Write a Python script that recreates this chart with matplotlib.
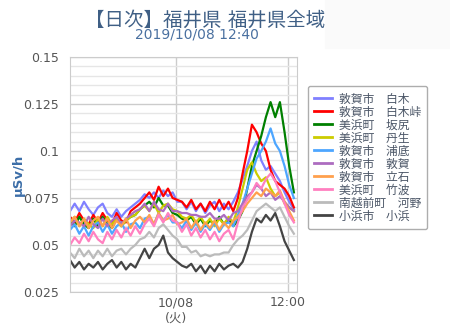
import matplotlib
matplotlib.use("Agg")
import matplotlib.pyplot as plt
import pandas as pd

plt.rcParams['font.family'] = ['DejaVu Sans', 'Noto Sans CJK JP']

# 30 minute readings, 10/07 12:40 -> 10/08 12:40
times = pd.date_range("2019-10-07 12:40", "2019-10-08 12:40", freq="30min")

stations = ["敦賀市　白木", "敦賀市　白木峠", "美浜町　坂尻", "美浜町　丹生", "敦賀市　浦底",
            "敦賀市　敦賀", "敦賀市　立石", "美浜町　竹波", "南越前町　河野", "小浜市　小浜"]
colors = ["#8080ff", "#ff0000", "#008000", "#cccc00", "#4da6ff",
          "#ad6cc0", "#ffa04d", "#ff80c0", "#bbbbbb", "#444444"]

shiraki = [0.068, 0.072, 0.068, 0.073, 0.069, 0.066, 0.070, 0.072, 0.067, 0.065, 0.069, 0.065, 0.068,
           0.070, 0.072, 0.074, 0.077, 0.075, 0.078, 0.075, 0.079, 0.076, 0.078, 0.073, 0.073, 0.069,
           0.073, 0.068, 0.072, 0.067, 0.071, 0.073, 0.068, 0.072, 0.069, 0.073, 0.078, 0.085, 0.092,
           0.100, 0.105, 0.095, 0.090, 0.092, 0.088, 0.084, 0.078, 0.073, 0.069]
shiraki_toge = [0.065, 0.062, 0.067, 0.063, 0.061, 0.066, 0.062, 0.067, 0.063, 0.061, 0.067, 0.063, 0.062,
                0.068, 0.070, 0.072, 0.075, 0.078, 0.074, 0.081, 0.076, 0.080, 0.075, 0.074, 0.073, 0.070,
                0.074, 0.069, 0.072, 0.068, 0.073, 0.069, 0.074, 0.069, 0.073, 0.068, 0.075, 0.088, 0.100,
                0.114, 0.110, 0.104, 0.100, 0.090, 0.084, 0.082, 0.080, 0.076, 0.070]
sakajiri = [0.063, 0.060, 0.065, 0.061, 0.059, 0.064, 0.060, 0.065, 0.061, 0.059, 0.064, 0.060, 0.063,
            0.065, 0.066, 0.069, 0.071, 0.073, 0.070, 0.075, 0.071, 0.071, 0.067, 0.066, 0.064, 0.063,
            0.065, 0.061, 0.064, 0.060, 0.063, 0.061, 0.065, 0.061, 0.064, 0.060, 0.063, 0.068, 0.080,
            0.092, 0.100, 0.108, 0.118, 0.126, 0.118, 0.126, 0.110, 0.092, 0.078]
nyu = [0.062, 0.065, 0.060, 0.064, 0.061, 0.059, 0.064, 0.060, 0.065, 0.061, 0.064, 0.060, 0.063,
       0.065, 0.066, 0.069, 0.071, 0.068, 0.072, 0.067, 0.071, 0.072, 0.069, 0.068, 0.065, 0.064,
       0.066, 0.062, 0.065, 0.061, 0.064, 0.060, 0.064, 0.061, 0.065, 0.062, 0.070, 0.080, 0.090,
       0.094, 0.088, 0.084, 0.086, 0.080, 0.076, 0.078, 0.072, 0.070, 0.068]
urasoko = [0.058, 0.061, 0.056, 0.060, 0.055, 0.060, 0.062, 0.057, 0.061, 0.056, 0.060, 0.062, 0.057,
           0.061, 0.062, 0.059, 0.064, 0.065, 0.061, 0.067, 0.063, 0.066, 0.062, 0.062, 0.059, 0.063,
           0.058, 0.062, 0.057, 0.061, 0.058, 0.062, 0.057, 0.061, 0.062, 0.060, 0.066, 0.072, 0.080,
           0.088, 0.096, 0.100, 0.105, 0.112, 0.104, 0.100, 0.092, 0.082, 0.075]
tsuruga = [0.060, 0.063, 0.062, 0.060, 0.065, 0.061, 0.059, 0.064, 0.060, 0.063, 0.065, 0.061, 0.064,
           0.066, 0.068, 0.069, 0.072, 0.068, 0.073, 0.069, 0.068, 0.072, 0.068, 0.068, 0.067, 0.067,
           0.066, 0.066, 0.065, 0.065, 0.067, 0.064, 0.064, 0.066, 0.063, 0.067, 0.068, 0.072, 0.076,
           0.078, 0.082, 0.080, 0.076, 0.078, 0.074, 0.076, 0.073, 0.070, 0.068]
tateishi = [0.062, 0.065, 0.060, 0.064, 0.059, 0.063, 0.065, 0.060, 0.064, 0.059, 0.063, 0.060, 0.064,
            0.059, 0.063, 0.065, 0.062, 0.066, 0.061, 0.067, 0.063, 0.064, 0.066, 0.061, 0.062, 0.064,
            0.059, 0.063, 0.058, 0.062, 0.059, 0.063, 0.058, 0.062, 0.059, 0.063, 0.065, 0.068, 0.072,
            0.075, 0.078, 0.076, 0.080, 0.078, 0.076, 0.079, 0.073, 0.068, 0.063]
takenami = [0.050, 0.054, 0.051, 0.056, 0.052, 0.057, 0.053, 0.051, 0.057, 0.053, 0.058, 0.054, 0.059,
            0.055, 0.060, 0.056, 0.061, 0.064, 0.060, 0.066, 0.062, 0.067, 0.063, 0.062, 0.057, 0.061,
            0.055, 0.059, 0.054, 0.058, 0.053, 0.057, 0.052, 0.056, 0.058, 0.053, 0.062, 0.070, 0.074,
            0.078, 0.083, 0.080, 0.085, 0.088, 0.084, 0.078, 0.072, 0.066, 0.062]
kono = [0.046, 0.043, 0.048, 0.044, 0.047, 0.043, 0.047, 0.044, 0.048, 0.044, 0.047, 0.048, 0.045,
        0.048, 0.050, 0.053, 0.054, 0.057, 0.054, 0.059, 0.061, 0.058, 0.055, 0.053, 0.049, 0.049,
        0.046, 0.047, 0.044, 0.045, 0.044, 0.045, 0.045, 0.046, 0.046, 0.050, 0.053, 0.055, 0.058,
        0.063, 0.068, 0.070, 0.072, 0.070, 0.068, 0.070, 0.065, 0.060, 0.056]
obama = [0.042, 0.038, 0.041, 0.037, 0.040, 0.038, 0.041, 0.037, 0.040, 0.042, 0.038, 0.041, 0.037,
         0.040, 0.038, 0.043, 0.048, 0.043, 0.048, 0.050, 0.055, 0.046, 0.043, 0.041, 0.039, 0.038,
         0.040, 0.036, 0.039, 0.035, 0.039, 0.036, 0.040, 0.037, 0.039, 0.040, 0.038, 0.041, 0.048,
         0.057, 0.064, 0.062, 0.066, 0.063, 0.067, 0.060, 0.052, 0.047, 0.042]

series = [shiraki, shiraki_toge, sakajiri, nyu, urasoko,
          tsuruga, tateishi, takenami, kono, obama]

fig = plt.figure(figsize=(4.5, 3.34), dpi=100)
fig.patches.append(plt.Rectangle((325 / 450, 1 - 48 / 334), 125 / 450, 48 / 334,
                                 transform=fig.transFigure, color="#fafafa", zorder=0))
ax = fig.add_axes([70 / 450, 42 / 334, 227 / 450, 235 / 334])

for name, col, vals in zip(stations, colors, series):
    ax.plot(times, vals, color=col, lw=1.6, label=name)

ax.set_xlim(pd.Timestamp("2019-10-07 12:40"), pd.Timestamp("2019-10-08 13:00"))
ax.set_ylim(0.025, 0.15)

ax.set_yticks([0.025, 0.05, 0.075, 0.1, 0.125, 0.15])
ax.set_yticklabels(["0.025", "0.05", "0.075", "0.1", "0.125", "0.15"])
ax.set_yticks([0.025 + 0.005 * i for i in range(26)], minor=True)
ax.set_xticks([pd.Timestamp("2019-10-08 00:00"), pd.Timestamp("2019-10-08 12:00")])
ax.set_xticklabels(["10/08\n(火)", "12:00"])

ax.grid(True, which="major", color="#cccccc", lw=1)
ax.grid(True, which="minor", axis="y", color="#e6e6e6", lw=1)
ax.set_axisbelow(True)
ax.tick_params(which="both", length=0, labelsize=9, labelcolor="#555555", pad=8)
ax.tick_params(axis="x", pad=3)
for s in ax.spines.values():
    s.set_color("#cccccc")

fig.text(18 / 450, 1 - 175 / 334, "μSv/h", rotation=90, ha="center", va="center",
         color="#3c6ea8", fontsize=9.5, fontweight="bold")

fig.text(205 / 450, 1 - 20 / 334, "【日次】福井県 福井県全域", ha="center", va="center",
         fontsize=14, color="#3f5f85")
fig.text(197 / 450, 1 - 35 / 334, "2019/10/08 12:40", ha="center", va="center",
         fontsize=10, color="#4a70a0")

leg = fig.legend(loc="upper left", bbox_to_anchor=(308 / 450, 1 - 86 / 334),
                 fontsize=8.5, handlelength=1.5, handletextpad=0.55, labelspacing=0.0,
                 frameon=True, fancybox=True, borderpad=0.55, borderaxespad=0)
leg.get_frame().set_edgecolor("#999999")
leg.get_frame().set_linewidth(1)
for t in leg.get_texts():
    t.set_color("#4a5566")
for l in leg.get_lines():
    l.set_linewidth(2)

fig.savefig("out.png", dpi=100)
